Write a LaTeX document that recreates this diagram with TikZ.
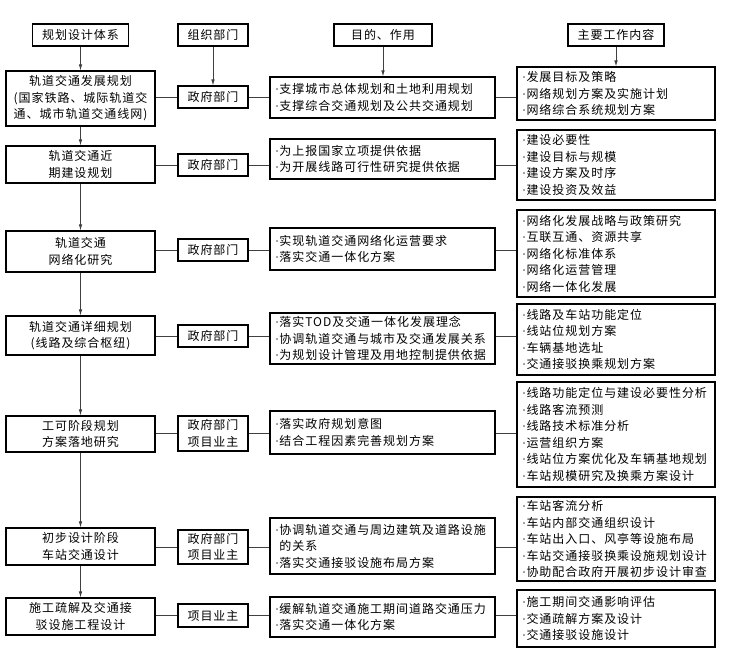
\documentclass[tikz,border=0pt]{standalone}
\usepackage{fontspec}
\newfontfamily\cjk[LetterSpace=8]{Noto Sans CJK SC}
\newfontfamily\latinfont{Liberation Serif}
\newcommand\pdot{{\latinfont ·}\hspace{.5pt}}
\usetikzlibrary{arrows.meta}

\begin{document}
\begin{tikzpicture}[x=1pt,y=-1pt,
    font={\cjk\fontsize{12}{16.5}\selectfont},
    box/.style={draw,line width=1.1pt,inner sep=0pt},
    head/.style={box,minimum height=22,align=center},
    stage/.style={box,minimum width=149,align=center},
    dept/.style={box,minimum width=70,align=center},
    goal/.style={box,text width=215pt,inner xsep=5pt,align=left},
    work/.style={box,text width=188pt,inner xsep=5pt,align=left},
    link/.style={line width=.8pt,black!75},
    arrow/.style={link,-{Latex[length=6pt,width=3.6pt]}}]
    \useasboundingbox (0,0) rectangle (734,653);
    % Kopfzeile
    \node[head,minimum width=96] (h1) at (80.5,35) {规划设计体系};
    \node[head,minimum width=70] (h2) at (213,35) {组织部门};
    \node[head,minimum width=98] (h3) at (383,35) {目的、作用};
    \node[head,minimum width=96] (h4) at (616,35) {主要工作内容};
    % Planungsstufen
    \node[stage,minimum height=55] (s1) at (80.5,98.5)
      {轨道交通发展规划\\(国家铁路、城际轨道交\\通、城市轨道交通线网)};
    \node[stage,minimum height=37] (s2) at (80.5,164.5) {轨道交通近\\期建设规划};
    \node[stage,minimum height=41] (s3) at (80.5,251.5) {轨道交通\\网络化研究};
    \node[stage,minimum height=39] (s4) at (80.5,335.5) {轨道交通详细规划\\(线路及综合枢纽)};
    \node[stage,minimum height=36] (s5) at (80.5,434) {工可阶段规划\\方案落地研究};
    \node[stage,minimum height=37] (s6) at (80.5,546.5) {初步设计阶段\\车站交通设计};
    \node[stage,minimum height=37] (s7) at (80.5,616.5) {施工疏解及交通接\\驳设施工程设计};
    % Abteilungen
    \node[dept,minimum height=22] (d1) at (213,97) {政府部门};
    \node[dept,minimum height=22] (d2) at (213,165) {政府部门};
    \node[dept,minimum height=22] (d3) at (213,250) {政府部门};
    \node[dept,minimum height=22] (d4) at (213,336) {政府部门};
    \node[dept,minimum height=35] (d5) at (213,433.5) {政府部门\\项目业主};
    \node[dept,minimum height=34] (d6) at (213,547) {政府部门\\项目业主};
    \node[dept,minimum height=23] (d7) at (213,615.5) {项目业主};
    % Ziele
    \node[goal,minimum height=41] (g1) at (382.5,97.5)
      {\pdot 支撑城市总体规划和土地利用规划\\\pdot 支撑综合交通规划及公共交通规划};
    \node[goal,minimum height=40] (g2) at (382.5,159)
      {\pdot 为上报国家立项提供依据\\\pdot 为开展线路可行性研究提供依据};
    \node[goal,minimum height=42] (g3) at (382.5,249)
      {\pdot 实现轨道交通网络化运营要求\\\pdot 落实交通一体化方案};
    \node[goal,minimum height=51] (g4) at (382.5,338.5)
      {\pdot 落实TOD及交通一体化发展理念\\\pdot 协调轨道交通与城市及交通发展关系\\\pdot 为规划设计管理及用地控制提供依据};
    \node[goal,minimum height=43] (g5) at (382.5,432.5)
      {\pdot 落实政府规划意图\\\pdot 结合工程因素完善规划方案};
    \node[goal,minimum height=56] (g6) at (382.5,546)
      {\pdot 协调轨道交通与周边建筑及道路设施\\\phantom{\pdot}的关系\\\pdot 落实交通接驳设施布局方案};
    \node[goal,minimum height=40] (g7) at (382.5,617)
      {\pdot 缓解轨道交通施工期间道路交通压力\\\pdot 落实交通一体化方案};
    % Arbeitsinhalte
    \node[work,minimum height=53] (w1) at (616,93.5)
      {\pdot 发展目标及策略\\\pdot 网络规划方案及实施计划\\\pdot 网络综合系统规划方案};
    \node[work,minimum height=70] (w2) at (616,165)
      {\pdot 建设必要性\\\pdot 建设目标与规模\\\pdot 建设方案及时序\\\pdot 建设投资及效益};
    \node[work,minimum height=87] (w3) at (616,253.5)
      {\pdot 网络化发展战略与政策研究\\\pdot 互联互通、资源共享\\\pdot 网络化标准体系\\\pdot 网络化运营管理\\\pdot 网络一体化发展};
    \node[work,minimum height=71] (w4) at (616,339.5)
      {\pdot 线路及车站功能定位\\\pdot 线站位规划方案\\\pdot 车辆基地选址\\\pdot 交通接驳换乘规划方案};
    \node[work,minimum height=105] (w5) at (616,434.5)
      {\pdot 线路功能定位与建设必要性分析\\\pdot 线路客流预测\\\pdot 线路技术标准分析\\\pdot 运营组织方案\\\pdot 线站位方案优化及车辆基地规划\\\pdot 车站规模研究及换乘方案设计};
    \node[work,minimum height=84] (w6) at (616,539)
      {\pdot 车站客流分析\\\pdot 车站内部交通组织设计\\\pdot 车站出入口、风亭等设施布局\\\pdot 车站交通接驳换乘设施规划设计\\\pdot 协助配合政府开展初步设计审查};
    \node[work,minimum height=57] (w7) at (616,618.5)
      {\pdot 施工期间交通影响评估\\\pdot 交通疏解方案及设计\\\pdot 交通接驳设施设计};
    % Pfeile und Verbindungen
    \foreach \c in {1,...,4}{
      \draw[arrow] (h\c.south) -- (h\c.south |- \ifcase\c\or s1\or d1\or g1\or w1\fi.north);
    }
    \foreach \i [evaluate=\i as \j using int(\i+1)] in {1,...,6}{
      \draw[arrow] (s\i.south) -- (s\j.north);
    }
    \foreach \i in {1,...,7}{
      \draw[link] (d\i.west -| s\i.east) -- (d\i.west);
      \draw[link] (d\i.east) -- (d\i.east -| g\i.west);
      \draw[link] (g\i.east |- d\i) -- (w\i.west |- d\i);
    }
\end{tikzpicture}
\end{document}
